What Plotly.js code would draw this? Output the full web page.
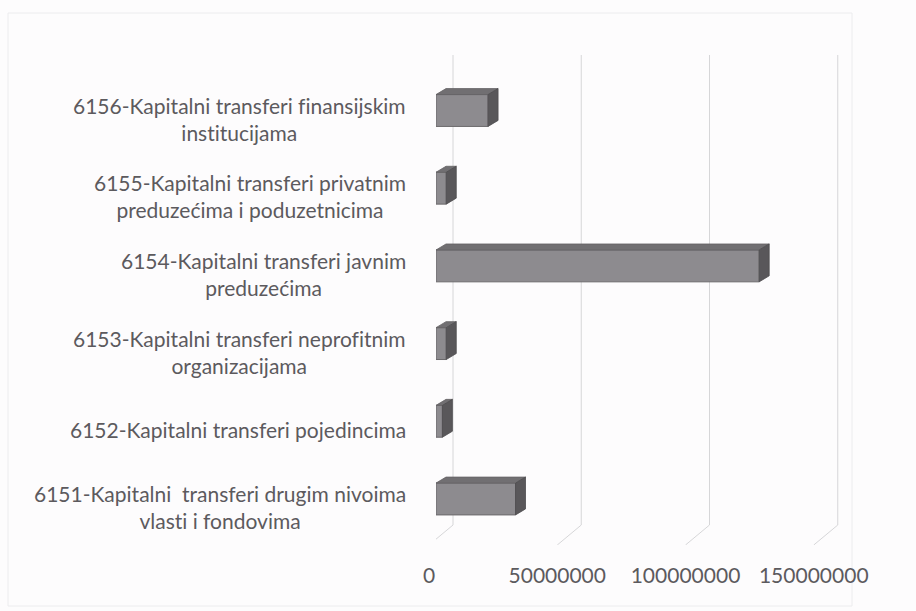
<!DOCTYPE html>
<html>
<head>
<meta charset="utf-8">
<script src="https://cdn.plot.ly/plotly-3.0.1.min.js"></script>
<style>html,body{margin:0;padding:0;background:#fdfcfd;}#chart{width:916px;height:611px;}
svg text, svg tspan{font-variant-ligatures:none !important;font-feature-settings:"liga" 0,"clig" 0,"dlig" 0 !important;}</style>
</head>
<body>
<div id="chart"></div>
<script>
// ---- data ----
const categories = [
  "6151-Kapitalni\u00a0 transferi drugim nivoima<br>vlasti i fondovima",
  "6152-Kapitalni transferi pojedincima",
  "6153-Kapitalni transferi neprofitnim<br>organizacijama",
  "6154-Kapitalni transferi javnim<br>preduzećima",
  "6155-Kapitalni transferi privatnim<br>preduzećima i poduzetnicima",
  "6156-Kapitalni transferi finansijskim<br>institucijama"
];
const values = [31000000, 2500000, 4000000, 126000000, 4000000, 20300000];
const tickValues = [0, 50000000, 100000000, 150000000];
const tickLabels = ["0", "50000000", "100000000", "150000000"];

// ---- geometry / style constants ----
const W = 916, H = 611;
const mL = 436, mR = 56, mT = 55, mB = 66;
const plotW = W - mL - mR, plotH = H - mT - mB;
const pxPerUnitX = 2.565e-6;
const xMax = plotW / pxPerUnitX;
const yMin = -0.592, yMax = yMin + plotH / 77.7;
const pxX = px => px / pxPerUnitX;
const pxY = px => px / 77.7;
const barW = 0.41;
const depthX = pxX(10), depthY = pxY(6);
const backX = pxX(17), frontX = pxX(-7);
const backYbottom = -0.335;
const FONT = 'Lato, "Open Sans", sans-serif';

const idx = categories.map((_, i) => i);

// 3D faces built from the data values
const topX = [], topY = [], sideX = [], sideY = [];
values.forEach((v, i) => {
  const yt = i + barW / 2, yb = i - barW / 2;
  topX.push(0, v, v + depthX, depthX, 0, null);
  topY.push(yt, yt, yt + depthY, yt + depthY, yt, null);
  sideX.push(v, v, v + depthX, v + depthX, v, null);
  sideY.push(yb, yt, yt + depthY, yb + depthY, yb, null);
});

const traces = [
  {type: 'bar', orientation: 'h', y: idx, x: values, width: barW,
   marker: {color: '#8d8b8f', line: {color: '#6b696c', width: 1}}, hoverinfo: 'x'},
  {type: 'scatter', mode: 'lines', x: topX, y: topY, fill: 'toself',
   fillcolor: '#716f72', line: {color: '#646265', width: 0.8}, hoverinfo: 'skip'},
  {type: 'scatter', mode: 'lines', x: sideX, y: sideY, fill: 'toself',
   fillcolor: '#59575a', line: {color: '#4e4c4f', width: 0.8}, hoverinfo: 'skip'}
];

// back-wall gridlines with floor diagonals, from tick values
const shapes = tickValues.map(v => ({
  type: 'path', xref: 'x', yref: 'y', layer: 'below',
  path: `M ${v + backX} ${yMax} L ${v + backX} ${backYbottom} L ${v + frontX} ${yMin}`,
  line: {color: '#d6d6d8', width: 1}
}));
// faint outer chart border
shapes.push({type: 'rect', xref: 'paper', yref: 'paper',
  x0: (8 - mL) / plotW, x1: (852 - mL) / plotW,
  y0: (H - mB - 606) / plotH, y1: (H - mB - 13) / plotH,
  line: {color: '#ececee', width: 1}, layer: 'below'});

const annotations = categories.map((c, i) => ({
  x: 0, y: i, xref: 'x', yref: 'y', text: c, showarrow: false,
  xanchor: 'right', yanchor: 'middle', align: 'center',
  xshift: -28, yshift: -8,
  font: {family: FONT, size: 21, color: '#5c5a5e'}
}));

const layout = {
  width: W, height: H,
  margin: {l: mL, r: mR, t: mT, b: mB, pad: 0},
  paper_bgcolor: '#fdfcfd', plot_bgcolor: 'rgba(0,0,0,0)',
  showlegend: false,
  xaxis: {range: [0, xMax], showgrid: false, zeroline: false, showline: false,
    tickmode: 'array', tickvals: tickValues, ticktext: tickLabels, ticks: '',
    ticklabelshift: -7, ticklabelstandoff: 16,
    tickfont: {family: FONT, size: 21, color: '#5c5a5e'}},
  yaxis: {range: [yMin, yMax], showgrid: false, zeroline: false, showline: false,
    showticklabels: false, ticks: ''},
  shapes: shapes,
  annotations: annotations
};

Plotly.newPlot('chart', traces, layout, {displayModeBar: false, staticPlot: true});
</script>
</body>
</html>
